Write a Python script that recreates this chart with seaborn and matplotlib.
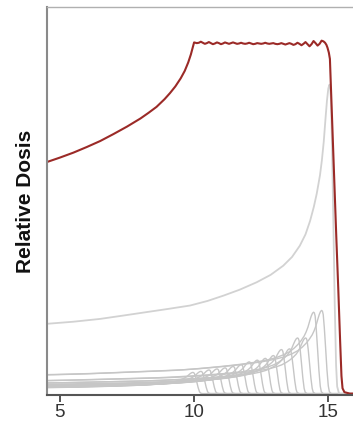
import numpy as np
import pandas as pd
import matplotlib
matplotlib.use("Agg")
import matplotlib.pyplot as plt
import seaborn as sns

# ---- data ----
# spread-out Bragg peak (dark red)
sobp_depth = [4.50, 5.00, 5.50, 6.00, 6.50, 7.00, 7.50, 8.00, 8.30, 8.60, 8.90, 9.10,
              9.30, 9.50, 9.65, 9.78, 9.88, 9.95, 10.00,
              10.10, 10.175, 10.25, 10.325, 10.40, 10.475, 10.55, 10.625, 10.70, 10.775,
              10.85, 10.925, 11.00, 11.075, 11.15, 11.225, 11.30, 11.375, 11.45, 11.525,
              11.60, 11.675, 11.75, 11.825, 11.90, 11.975, 12.05, 12.125, 12.20, 12.275,
              12.35, 12.425, 12.50, 12.575, 12.65, 12.725, 12.80, 12.875, 12.95, 13.025,
              13.10, 13.175, 13.25, 13.325, 13.40, 13.475, 13.55, 13.625, 13.70, 13.775,
              13.85, 13.925, 14.00, 14.075, 14.15, 14.225, 14.30, 14.375, 14.45, 14.525,
              14.60, 14.675, 14.75, 14.82, 14.88, 14.93, 14.97, 15.02,
              15.06, 15.14, 15.22, 15.30, 15.37, 15.44, 15.49, 15.53, 15.60, 15.80, 16.0]
sobp_dose = [0.657, 0.670, 0.684, 0.700, 0.717, 0.737, 0.758, 0.781, 0.797, 0.814, 0.836, 0.853,
             0.872, 0.895, 0.916, 0.940, 0.963, 0.983, 0.997,
             0.995, 0.996, 0.999, 0.996, 0.993, 0.995, 0.998, 0.995, 0.992, 0.994,
             0.997, 0.995, 0.992, 0.994, 0.997, 0.995, 0.993, 0.995, 0.997, 0.995,
             0.993, 0.994, 0.996, 0.994, 0.993, 0.994, 0.996, 0.994, 0.992, 0.993,
             0.995, 0.994, 0.993, 0.994, 0.996, 0.994, 0.993, 0.994, 0.995, 0.993,
             0.992, 0.993, 0.995, 0.993, 0.991, 0.993, 0.995, 0.993, 0.990, 0.992,
             0.996, 0.993, 0.989, 0.993, 0.998, 0.992, 0.986, 0.992, 1.001, 0.995,
             0.988, 0.993, 1.002, 1.000, 0.996, 0.990, 0.982, 0.968,
             0.950, 0.780, 0.610, 0.440, 0.300, 0.150, 0.050, 0.015, 0.004, 0.0, 0.0]

# pristine Bragg curve (light grey)
pristine_depth = [4.50, 5.50, 6.50, 7.36, 8.20, 9.00, 9.85, 10.50, 11.09, 11.70, 12.33,
                  12.85, 13.32, 13.65, 13.94, 14.15, 14.32, 14.46, 14.57, 14.69,
                  14.76, 14.83, 14.90, 14.95, 15.00, 15.04, 15.07, 15.10, 15.14, 15.19,
                  15.24, 15.29, 15.33, 15.40, 16.0]
pristine_dose = [0.198, 0.204, 0.212, 0.2215, 0.231, 0.240, 0.250, 0.263, 0.278, 0.295, 0.316,
                 0.337, 0.363, 0.388, 0.420, 0.452, 0.490, 0.530, 0.568, 0.620,
                 0.662, 0.715, 0.785, 0.832, 0.866, 0.877, 0.870, 0.835, 0.700, 0.480,
                 0.250, 0.080, 0.020, 0.0, 0.0]

# weighted component peaks (grey, bottom)
peak_positions = [9.95, 10.25, 10.55, 10.85, 11.15, 11.45, 11.75, 12.05, 12.35,
                  12.65, 12.95, 13.25, 13.55, 13.85, 14.15, 14.45, 14.75]
peak_heights = [0.060, 0.063, 0.067, 0.070, 0.073, 0.077, 0.082, 0.090, 0.095,
                0.100, 0.108, 0.125, 0.127, 0.158, 0.158, 0.231, 0.236]

x_ticks = [5, 10, 15]
y_label = "Relative Dosis"

# ---- figure ----
sns.set_style("white")
plt.rcParams['font.family'] = ['Liberation Sans', 'DejaVu Sans']

fig = plt.figure(figsize=(3.53, 4.21), dpi=100)
ax = fig.add_axes([0.132, 0.0618, 0.868, 0.9216])

p_depth = np.array(pristine_depth)
p_dose = np.array(pristine_dose)
p_peak_pos = p_depth[np.argmax(p_dose)]
p_peak_val = p_dose.max()

for pos, h in zip(peak_positions, peak_heights):
    comp = pd.DataFrame({"depth": p_depth + (pos - p_peak_pos),
                         "dose": p_dose / p_peak_val * h})
    sns.lineplot(data=comp, x="depth", y="dose", ax=ax, color="#c6c6c6",
                 lw=1.0, sort=False, estimator=None)

prist = pd.DataFrame({"depth": p_depth, "dose": p_dose})
sns.lineplot(data=prist, x="depth", y="dose", ax=ax, color="#d2d2d2",
             lw=1.3, sort=False, estimator=None)

sobp = pd.DataFrame({"depth": sobp_depth, "dose": sobp_dose})
line_ax = sns.lineplot(data=sobp, x="depth", y="dose", ax=ax, color="#9b2a27",
                       lw=1.5, sort=False, estimator=None)
for ln in ax.get_lines():
    ln.set_solid_joinstyle("round")

ax.set_xlim(4.504, 15.92)
ax.set_ylim(-0.004, 1.0976)
ax.set_xticks(x_ticks)
ax.set_yticks([])
ax.set_xlabel("")
ax.set_ylabel(y_label, fontsize=15, fontweight="bold", color="#111111", labelpad=8)

ax.tick_params(axis="x", bottom=True, length=5, width=1.3, color="#444444",
               labelsize=13.5, labelcolor="#333333", pad=1.5)

ax.spines["right"].set_visible(False)
ax.spines["left"].set_color("#8a8a8a")
ax.spines["left"].set_linewidth(1.5)
ax.spines["bottom"].set_color("#555555")
ax.spines["bottom"].set_linewidth(1.5)
ax.spines["top"].set_color("#b0b0b0")
ax.spines["top"].set_linewidth(1.0)

fig.savefig("out.png", dpi=100)
